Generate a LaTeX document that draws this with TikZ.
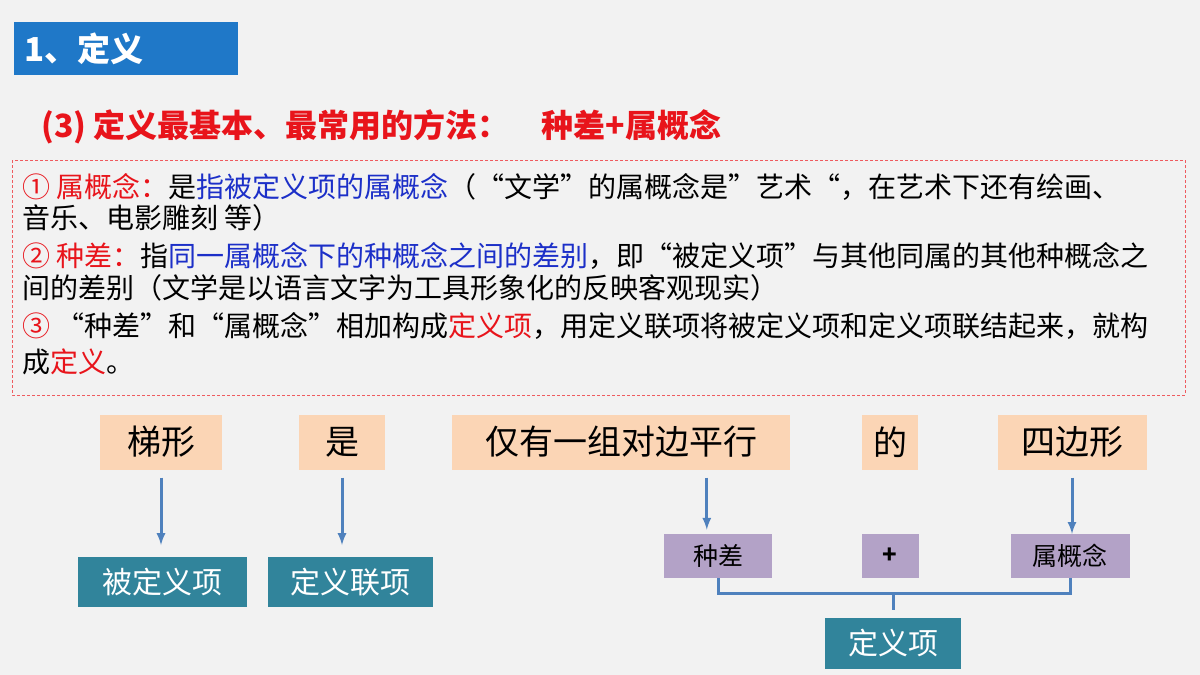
\documentclass[tikz,border=0pt]{standalone}
\usepackage{fontspec}
\setmainfont{Noto Sans CJK SC}
\usetikzlibrary{positioning}
\definecolor{bgcol}{HTML}{F2F2F2}
\definecolor{titleblue}{HTML}{1F78C8}
\definecolor{peach}{HTML}{FBD5B5}
\definecolor{teal}{HTML}{31849B}
\definecolor{lilac}{HTML}{B3A2C7}
\definecolor{linkblue}{HTML}{4F81BD}
\definecolor{txtred}{HTML}{E8141B}
\definecolor{txtblue}{HTML}{1C2FC8}
\tikzset{
  wordbox/.style={fill=peach, inner sep=0pt, font=\fontsize{34}{36}\selectfont},
  termbox/.style={fill=teal, text=white, inner sep=0pt, font=\fontsize{30}{32}\selectfont},
  partbox/.style={fill=lilac, inner sep=0pt, font=\fontsize{25}{27}\selectfont},
  textline/.style={anchor=west, inner sep=0pt, font=\fontsize{28}{30}\selectfont},
  link/.style={linkblue, line width=3pt, -latex}
}
\begin{document}
\begin{tikzpicture}[x=1pt, y=-1pt]
  \useasboundingbox[fill=bgcol] (0,0) rectangle (1200,675);
  % heading
  \node[fill=titleblue, text=white, minimum width=224pt, minimum height=53pt, anchor=north west,
        font=\fontsize{33}{35}\selectfont\bfseries, text width=204pt] (title) at (14,22) {1、定义};
  \node[anchor=west, text=txtred, font=\fontsize{32}{34}\selectfont\bfseries] (method) at (38,127)
    {(3) 定义最基本、最常用的方法：\quad 种差+属概念};
  % explanation box
  \draw[txtred!70, densely dashed, line width=0.6pt] (12,160) rectangle (1185,395);
  \node[textline] (l1) at (22,187) {\textcolor{txtred}{① 属概念：}是\textcolor{txtblue}{指被定义项的属概念}（“文学”的属概念是”艺术“，在艺术下还有绘画、};
  \node[textline] (l2) at (22,218) {音乐、电影雕刻 等）};
  \node[textline] (l3) at (22,256) {\textcolor{txtred}{② 种差：}指\textcolor{txtblue}{同一属概念下的种概念之间的差别}，即“被定义项”与其他同属的其他种概念之};
  \node[textline] (l4) at (22,288) {间的差别（文学是以语言文字为工具形象化的反映客观现实）};
  \node[textline] (l5) at (22,326) {\textcolor{txtred}{③} “种差”和“属概念”相加构成\textcolor{txtred}{定义项}，用定义联项将被定义项和定义项联结起来，就构};
  \node[textline] (l6) at (22,362) {成\textcolor{txtred}{定义}。};
  % sentence
  \node[wordbox, minimum width=122pt, minimum height=55pt] (tixing) at (161,442) {梯形};
  \node[wordbox, minimum width=86pt, minimum height=55pt] (shi) at (342,442) {是};
  \node[wordbox, minimum width=338pt, minimum height=55pt] (pingxing) at (621,442) {仅有一组对边平行};
  \node[wordbox, minimum width=56pt, minimum height=55pt] (de) at (890,442) {的};
  \node[wordbox, minimum width=149pt, minimum height=55pt] (sibianxing) at (1072,442) {四边形};
  % terms
  \node[termbox, minimum width=169pt, minimum height=50pt] (bdy) at (162,582) {被定义项};
  \node[termbox, minimum width=165pt, minimum height=50pt] (lx) at (350,582) {定义联项};
  \node[partbox, minimum width=108pt, minimum height=44pt] (zc) at (718,556) {种差};
  \node[partbox, minimum width=57pt, minimum height=44pt, font=\fontsize{24}{26}\selectfont\bfseries] (plus) at (890,556) {+};
  \node[partbox, minimum width=119pt, minimum height=44pt] (sgn) at (1070,556) {属概念};
  \node[termbox, minimum width=136pt, minimum height=51pt] (dyx) at (893,643) {定义项};
  % connectors
  \draw[link] (tixing.south) ++(0,8) -- (tixing.south |- 0,545);
  \draw[link] (shi.south) ++(0,8) -- (shi.south |- 0,545);
  \draw[link] (pingxing.south -| zc.north west) ++(43,8) -- ++(0,52);
  \draw[link] (sibianxing.south) ++(0,8) -- (sibianxing.south |- sgn.north) ;
  \coordinate (join) at (893,593);
  \draw[linkblue, line width=3pt] (zc.south) -- (zc.south |- join) -- (sgn.south |- join) -- (sgn.south);
  \draw[linkblue, line width=3pt] (join) -- ++(0,17);
\end{tikzpicture}
\end{document}
